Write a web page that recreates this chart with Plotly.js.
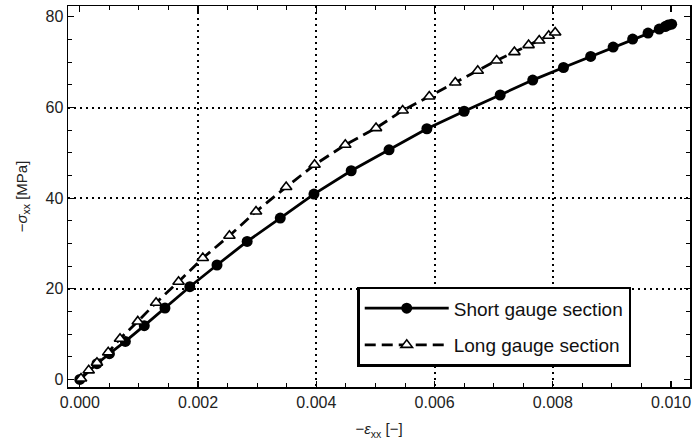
<!DOCTYPE html>
<html>
<head>
<meta charset="utf-8">
<script src="https://cdn.plot.ly/plotly-3.0.1.min.js"></script>
<style>html,body{margin:0;padding:0;background:#fff}</style>
</head>
<body>
<div id="chart" style="width:694px;height:448px"></div>
<script>
// Short gauge section (strain [-], stress [MPa])
const shortStrain = [0.0000, 0.00029, 0.00050, 0.00077, 0.00109, 0.00144, 0.00186, 0.00232, 0.00283, 0.00339, 0.00396, 0.00459, 0.00523, 0.00587, 0.00650, 0.00711, 0.00766, 0.00818, 0.00864, 0.00902, 0.00935, 0.00961, 0.00980, 0.00990, 0.00995, 0.01001];
const shortStress = [0.0, 3.46, 5.67, 8.38, 11.85, 15.75, 20.45, 25.24, 30.44, 35.61, 40.90, 46.04, 50.67, 55.31, 59.17, 62.76, 66.05, 68.83, 71.26, 73.33, 75.09, 76.42, 77.30, 77.87, 78.18, 78.40];
// Long gauge section
const longStrain = [0.00002, 0.00015, 0.00029, 0.00048, 0.00068, 0.00098, 0.00129, 0.00167, 0.00208, 0.00253, 0.00298, 0.00349, 0.00397, 0.00449, 0.00501, 0.00546, 0.00591, 0.00635, 0.00673, 0.00705, 0.00735, 0.00759, 0.00777, 0.00793, 0.00804];
const longStress = [0.2, 1.99, 3.68, 5.96, 8.98, 12.79, 16.92, 21.55, 26.78, 31.70, 37.06, 42.44, 47.36, 51.78, 55.46, 59.34, 62.43, 65.52, 68.10, 70.37, 72.23, 73.77, 74.78, 75.82, 76.55];

const seriesNames = ["Short gauge section", "Long gauge section"];
const xGridVals = [0.002, 0.004, 0.006, 0.008];
const yGridVals = [20, 40, 60];

const xRange = [-0.0002, 0.01032];
const yRange = [-1.68, 82.4];

const traces = [
  {
    x: shortStrain, y: shortStress, name: seriesNames[0], type: "scatter", mode: "lines+markers",
    legendgroup: "a",
    line: {color: "#000", width: 2.8},
    marker: {symbol: "circle", size: 11, color: "#000"}
  },
  {
    x: longStrain, y: longStress, name: seriesNames[1], type: "scatter", mode: "lines+markers",
    legendgroup: "b",
    line: {color: "#000", width: 2.8, dash: "11px,6px"},
    marker: {symbol: "triangle-up", size: 10, color: "#fff", line: {color: "#000", width: 1.6}}
  },
  // invisible trace to activate the grid overlay axes
  {x: [xRange[0]], y: [yRange[0]], xaxis: "x2", yaxis: "y2", mode: "markers",
   marker: {opacity: 0}, showlegend: false, hoverinfo: "skip"}
];

const tickFont = {family: "Liberation Sans, Arial, sans-serif", size: 16, color: "#222"};
const titleFont = {family: "Liberation Sans, Arial, sans-serif", size: 15, color: "#222"};

const layout = {
  width: 694, height: 448,
  margin: {l: 68, r: 4, t: 6, b: 61, pad: 0},
  paper_bgcolor: "#fff", plot_bgcolor: "#fff",
  showlegend: true,
  xaxis: {
    range: xRange, showline: true, linecolor: "#000", linewidth: 1.5, mirror: "allticks",
    ticks: "inside", ticklen: 6, tickwidth: 1.2, tickcolor: "#000",
    tick0: 0, dtick: 0.002, tickformat: ".3f",
    minor: {ticks: "inside", dtick: 0.0005, ticklen: 4, tickwidth: 1, tickcolor: "#000", showgrid: false},
    showgrid: false, zeroline: false, tickfont: tickFont,
    title: {text: "\u2212<i>\u03b5</i><sub>xx</sub> [\u2212]", font: titleFont, standoff: 14}
  },
  yaxis: {
    range: yRange, showline: true, linecolor: "#000", linewidth: 1.5, mirror: "allticks",
    ticks: "inside", ticklen: 6, tickwidth: 1.2, tickcolor: "#000",
    tick0: 0, dtick: 20,
    minor: {ticks: "inside", dtick: 5, ticklen: 4, tickwidth: 1, tickcolor: "#000", showgrid: false},
    showgrid: false, zeroline: false, tickfont: tickFont,
    title: {text: "\u2212<i>\u03c3</i><sub>xx</sub> [MPa]", font: titleFont, standoff: 14}
  },
  xaxis2: {
    overlaying: "x", matches: "x", range: xRange, tickvals: xGridVals, showticklabels: false,
    ticks: "", showgrid: true, gridcolor: "#000", gridwidth: 2, griddash: "2px,4px",
    zeroline: false, showline: false
  },
  yaxis2: {
    overlaying: "y", matches: "y", range: yRange, tickvals: yGridVals, showticklabels: false,
    ticks: "", showgrid: true, gridcolor: "#000", gridwidth: 2, griddash: "2px,4px",
    zeroline: false, showline: false
  },
  legend: {
    x: 0.465, y: 0.263, xanchor: "left", yanchor: "top",
    bgcolor: "#fff", bordercolor: "#000", borderwidth: 2.5,
    traceorder: "grouped", tracegroupgap: 9, itemwidth: 84,
    font: {family: "Liberation Sans, Arial, sans-serif", size: 19, color: "#111"}
  }
};

Plotly.newPlot("chart", traces, layout, {displayModeBar: false, staticPlot: true});
</script>
</body>
</html>
